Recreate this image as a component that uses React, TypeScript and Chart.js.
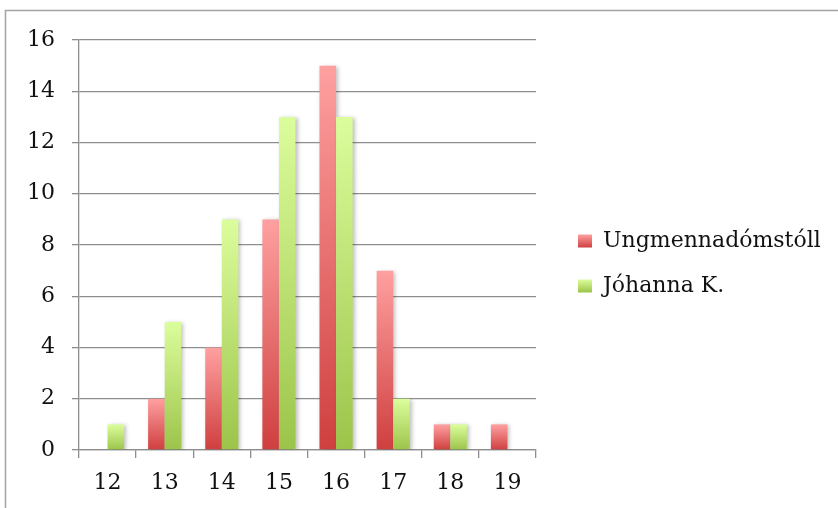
import React, { useEffect, useRef } from "react";
import { Chart, registerables } from "chart.js";

Chart.register(...registerables);

const categories = ["12", "13", "14", "15", "16", "17", "18", "19"];
const seriesNames = ["Ungmennadómstóll", "Jóhanna K."];
const ungmennaValues = [0, 2, 4, 9, 15, 7, 1, 1];
const johannaValues = [1, 5, 9, 13, 13, 2, 1, 0];
const yMin = 0;
const yMax = 16;
const yStep = 2;

const FONT = "'DejaVu Serif', 'Liberation Serif', serif";
const FONT_SIZE = 22;
const LEGEND_PAD = 23;
const LEGEND_BOX_W = 14;
const LEGEND_BOX_H = 13;
const GRID = "#8e8e8e";

const redTop = "#ffa0a0";
const redBottom = "#cf3f3f";
const greenTop = "#dcfd9c";
const greenBottom = "#9cc44a";

function barGradient(top: string, bottom: string) {
  return (ctx: any) => {
    const chart = ctx.chart;
    const y = chart.scales && chart.scales.y;
    if (!y || ctx.type !== "data") return bottom;
    const v = ctx.raw as number;
    const yTop = y.getPixelForValue(v);
    const yBase = y.getPixelForValue(0);
    if (!isFinite(yTop) || !isFinite(yBase) || Math.abs(yBase - yTop) < 0.5) return bottom;
    const g = chart.ctx.createLinearGradient(0, yTop, 0, yBase);
    g.addColorStop(0, top);
    g.addColorStop(1, bottom);
    return g;
  };
}

const framePlugin = {
  id: "frame",
  beforeDraw(chart: any) {
    const ctx = chart.ctx;
    ctx.save();
    ctx.fillStyle = "#ffffff";
    ctx.fillRect(0, 0, chart.width, chart.height);
    ctx.strokeStyle = "#a3a3a3";
    ctx.lineWidth = 1.5;
    ctx.strokeRect(5.5, 10.5, chart.width + 50, chart.height + 50);
    ctx.restore();
  },
};

const legendPlacer = {
  id: "legendPlacer",
  afterLayout(chart: any) {
    const lg = chart.legend;
    if (!lg) return;
    const w = lg.width;
    const h = lg.height;
    lg.left = 578 - LEGEND_PAD;
    lg.top = 207;
    lg.right = lg.left + w;
    lg.bottom = lg.top + h;
  },
};

// Draw datasets in index order (red first, then green) with a soft drop shadow
const shadowPlugin = {
  id: "barShadow",
  beforeDatasetsDraw(chart: any) {
    const ctx = chart.ctx;
    const a = chart.chartArea;
    ctx.save();
    ctx.beginPath();
    ctx.rect(a.left, a.top - 2, a.right - a.left + 6, a.bottom - a.top + 2);
    ctx.clip();
    ctx.shadowColor = "rgba(0,0,0,0.25)";
    ctx.shadowBlur = 4;
    ctx.shadowOffsetX = 2;
    ctx.shadowOffsetY = 1;
    const n = chart.data.datasets.length;
    for (let i = 0; i < n; i++) {
      const meta = chart.getDatasetMeta(i);
      if (meta && meta.controller && chart.isDatasetVisible(i)) meta.controller.draw();
    }
    ctx.restore();
    return false;
  },
};

export default function App() {
  const ref = useRef<HTMLCanvasElement>(null);

  useEffect(() => {
    document.body.style.margin = "0";
    const canvas = ref.current!;
    const chart = new Chart(canvas, {
      type: "bar",
      data: {
        labels: categories,
        datasets: [
          {
            label: seriesNames[0],
            data: ungmennaValues,
            backgroundColor: barGradient(redTop, redBottom),
            borderWidth: 0,
            categoryPercentage: 0.58,
            barPercentage: 1,
          },
          {
            label: seriesNames[1],
            data: johannaValues,
            backgroundColor: barGradient(greenTop, greenBottom),
            borderWidth: 0,
            categoryPercentage: 0.58,
            barPercentage: 1,
          },
        ],
      },
      options: {
        animation: false,
        responsive: false,
        devicePixelRatio: 1,
        layout: { padding: { left: 0, top: 40, right: 302, bottom: 0 } },
        plugins: {
          tooltip: { enabled: false },
          legend: {
            display: true,
            position: "chartArea",
            align: "start",
            labels: {
              font: { family: FONT, size: FONT_SIZE },
              color: "#111",
              boxWidth: LEGEND_BOX_W,
              boxHeight: LEGEND_BOX_H,
              padding: LEGEND_PAD,
              generateLabels: (ch: any) =>
                seriesNames.map((name, i) => {
                  const lg = ch.legend;
                  const top =
                    (lg ? lg.top : 0) +
                    LEGEND_PAD +
                    i * (FONT_SIZE + LEGEND_PAD) +
                    (FONT_SIZE - LEGEND_BOX_H) / 2;
                  const g = ch.ctx.createLinearGradient(0, top, 0, top + LEGEND_BOX_H);
                  g.addColorStop(0, i === 0 ? redTop : greenTop);
                  g.addColorStop(1, i === 0 ? redBottom : greenBottom);
                  return {
                    text: name,
                    fillStyle: g,
                    strokeStyle: "rgba(0,0,0,0)",
                    lineWidth: 0,
                    hidden: false,
                    datasetIndex: i,
                    fontColor: "#111",
                  };
                }),
            },
          },
        },
        scales: {
          x: {
            type: "category",
            afterFit: (s: any) => {
              s.height = 58;
            },
            grid: {
              offset: true,
              drawOnChartArea: false,
              drawTicks: true,
              tickLength: 8,
              color: GRID,
              lineWidth: 1.3,
            },
            border: { display: true, color: GRID, width: 1.3 },
            ticks: {
              font: { family: FONT, size: FONT_SIZE },
              color: "#111",
              padding: 12,
              maxRotation: 0,
            },
          },
          y: {
            min: yMin,
            max: yMax,
            afterFit: (s: any) => {
              s.width = 79;
            },
            grid: {
              color: GRID,
              lineWidth: 1.3,
              drawTicks: true,
              tickLength: 7,
            },
            border: { display: true, color: GRID, width: 1.3 },
            ticks: {
              stepSize: yStep,
              font: { family: FONT, size: FONT_SIZE },
              color: "#111",
              padding: 17,
            },
          },
        },
      },
      plugins: [framePlugin, legendPlacer, shadowPlugin],
    } as any);
    return () => chart.destroy();
  }, []);

  return (
    <div style={{ width: 838, height: 508, position: "relative", background: "#fff" }}>
      <canvas ref={ref} width={838} height={508} style={{ display: "block", width: 838, height: 508 }} />
    </div>
  );
}
